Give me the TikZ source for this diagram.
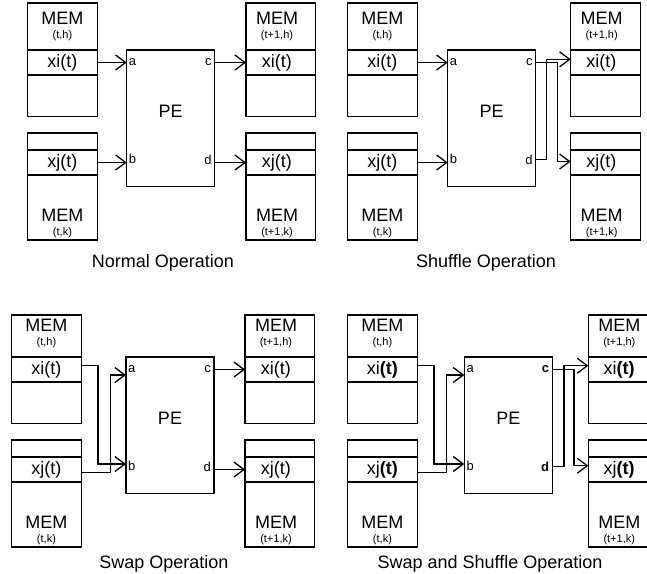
\documentclass[tikz,border=0pt]{standalone}
\usepackage{fontspec}
\setmainfont{Liberation Sans}
\usetikzlibrary{arrows.meta, calc}
\tikzset{
  mem/.style={draw, line width=1.3pt, inner sep=0pt, outer sep=0pt,
              minimum width=69.5pt, anchor=north west},
  row/.style={mem, minimum height=25pt, font=\fontsize{18}{20}\selectfont},
  pe/.style={draw, line width=1.3pt, inner sep=0pt, outer sep=0pt,
             minimum width=88pt, minimum height=136.7pt, anchor=north west},
  big/.style={inner sep=0pt, font=\fontsize{18}{20}\selectfont},
  small/.style={inner sep=0pt, font=\fontsize{11}{12}\selectfont},
  port/.style={inner sep=0pt, font=\fontsize{13}{14}\selectfont},
  optitle/.style={inner sep=0pt, font=\fontsize{18}{20}\selectfont},
  arr/.style={-{Straight Barb[length=10pt, width=15pt]}, line width=1.3pt},
}
% #1 id, #2 x of input MEMs, #3 x of PE, #4 x of output MEMs,
% #5 y offset, #6 top of upper MEMs, #7 font of (t), c, d
\newcommand{\opunit}[7]{%
  \node[mem, minimum height=116.5-#6] (mh#1) at (#2,#5+#6) {};
  \node[row] (xi#1) at (#2,#5+50) {xi{#7(t)}};
  \node[big] (mhT#1) at (#2+34.75,#5+18) {MEM};
  \node[small] (mhS#1) at (#2+34.75,#5+36) {(t,h)};
  \node[mem, minimum height=107] (mk#1) at (#2,#5+133) {};
  \node[row] (xj#1) at (#2,#5+150) {xj{#7(t)}};
  \node[big] (mkT#1) at (#2+34.75,#5+215) {MEM};
  \node[small] (mkS#1) at (#2+34.75,#5+232.5) {(t,k)};
  \node[pe] (pe#1) at (#3,#5+50) {};
  \node[big] (peT#1) at (#3+44,#5+111) {PE};
  \node[port, anchor=west] (la#1) at (#3+2,#5+62) {a};
  \node[port, anchor=west] (lb#1) at (#3+2,#5+159) {b};
  \node[port, anchor=east] (lc#1) at (#3+85,#5+62) {#7c};
  \node[port, anchor=east] (ld#1) at (#3+85,#5+160) {#7d};
  \coordinate (a#1) at (#3,#5+62.5);
  \coordinate (b#1) at (#3,#5+162.5);
  \coordinate (c#1) at (#3+88,#5+62.5);
  \coordinate (d#1) at (#3+88,#5+162.5);
  \node[mem, minimum height=116.5-#6] (nh#1) at (#4,#5+#6) {};
  \node[row] (xiR#1) at (#4,#5+50) {xi{#7(t)}\kern8pt};
  \node[big] (nhT#1) at (#4+31,#5+18) {MEM};
  \node[small] (nhS#1) at (#4+31,#5+36) {(t+1,h)};
  \node[mem, minimum height=107] (nk#1) at (#4,#5+133) {};
  \node[row] (xjR#1) at (#4,#5+150) {xj{#7(t)}\kern8pt};
  \node[big] (nkT#1) at (#4+31,#5+215) {MEM};
  \node[small] (nkS#1) at (#4+31,#5+232.5) {(t+1,k)};
}

\begin{document}
\begin{tikzpicture}[x=1pt, y=-1pt]
\useasboundingbox (0,0) rectangle (647,573);
\clip (0,0) rectangle (647,573);

\opunit{1}{27.7}{126.7}{246}{0}{3}{}
\opunit{2}{347.7}{447.7}{570.7}{0}{3}{}
\opunit{3}{11.7}{126}{245}{307}{8}{}
\opunit{4}{347.7}{464.3}{588.3}{307}{8}{\bfseries}

\node[optitle] (normal) at (163,263) {Normal Operation};
\node[optitle] (shuffle) at (486,263) {Shuffle Operation};
\node[optitle] (swap) at (164,564) {Swap Operation};
\node[optitle] (both) at (490,563.5) {Swap and Shuffle Operation};

% straight links
\foreach \s/\t in {xi1/a1, xj1/b1, c1/xiR1, d1/xjR1,
                   xi2/a2, xj2/b2, c3/xiR3, d3/xjR3}
  \draw[arr] (\s) -- (\t);

% shuffle: outputs cross
\draw[arr] (c2) -- ++(21.7,0) |- ([yshift=1pt]xjR2.west);
\draw[arr] ([yshift=3pt]d2) -- ++(11,0) |- ([yshift=3.2pt]xiR2.west);

% swap: inputs cross
\draw[arr] ([yshift=4pt]xi3.east) -- ++(16.7,0) |- ([yshift=5.5pt]b3);
\draw[arr] ([yshift=-3pt]xj3.east) -- ++(29.3,0) |- ([yshift=-5.5pt]a3);

% swap and shuffle
\draw[arr] ([yshift=4pt]xi4.east) -- ++(16.7,0) |- ([yshift=5.5pt]b4);
\draw[arr] ([yshift=-3pt]xj4.east) -- ++(29.3,0) |- ([yshift=-5.5pt]a4);
\draw[arr] (c4) -- ++(21.7,0) |- ([yshift=3.8pt]xjR4.west);
\draw[arr] ([yshift=3pt]d4) -- ++(11.7,0) |- ([yshift=3.8pt]xiR4.west);

\end{tikzpicture}
\end{document}
